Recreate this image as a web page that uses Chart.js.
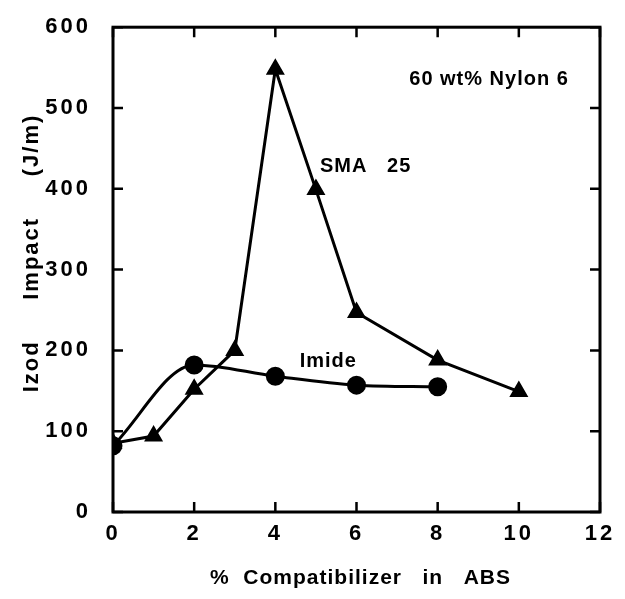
<!DOCTYPE html>
<html>
<head>
<meta charset="utf-8">
<script src="https://cdn.jsdelivr.net/npm/chart.js@4.4.1/dist/chart.umd.min.js"></script>
<style>
  html, body { margin: 0; padding: 0; background: #fff; }
  #wrap { width: 625px; height: 599px; }
</style>
</head>
<body>
<div id="wrap"><canvas id="impactChart" width="625" height="599"></canvas></div>
<script>
const smaX = [0, 1, 2, 3, 4, 5, 6, 8, 10];
const smaImpact = [85, 94, 152, 200, 548, 399, 247, 188, 149];
const imideX = [0, 2, 4, 6, 8];
const imideImpact = [82, 182, 168, 157, 155];
const xTicks = [0, 2, 4, 6, 8, 10, 12];
const yTicks = [0, 100, 200, 300, 400, 500, 600];

const font = "'Liberation Sans', Arial, sans-serif";

const toPoints = (xs, ys) => xs.map((x, i) => ({ x: x, y: ys[i] }));

// wide tracking on the tick numbers, like the original lettering
const spacingPlugin = {
  id: "spacing",
  beforeDraw(chart) { chart.ctx.letterSpacing = "3px"; },
  afterDatasetsDraw(chart) { chart.ctx.letterSpacing = "0px"; }
};

// frame, inward ticks, axis titles and the text labels inside the plot
const framePlugin = {
  id: "frame",
  afterDraw(chart) {
    const ctx = chart.ctx;
    const a = chart.chartArea;
    const xs = chart.scales.x, ys = chart.scales.y;
    ctx.save();
    ctx.strokeStyle = "#000";
    ctx.lineWidth = 3;
    ctx.strokeRect(a.left, a.top, a.right - a.left, a.bottom - a.top);
    ctx.lineWidth = 2.5;
    const len = 10;
    xTicks.forEach(v => {
      const px = xs.getPixelForValue(v);
      ctx.beginPath();
      ctx.moveTo(px, a.bottom); ctx.lineTo(px, a.bottom - len);
      ctx.moveTo(px, a.top); ctx.lineTo(px, a.top + len);
      ctx.stroke();
    });
    yTicks.forEach(v => {
      const py = ys.getPixelForValue(v);
      ctx.beginPath();
      ctx.moveTo(a.left, py); ctx.lineTo(a.left + len, py);
      ctx.moveTo(a.right, py); ctx.lineTo(a.right - len, py);
      ctx.stroke();
    });
    ctx.fillStyle = "#000";
    ctx.textBaseline = "middle";
    ctx.textAlign = "center";
    ctx.font = "bold 21px " + font;
    ctx.letterSpacing = "1px";
    ctx.fillText("%  Compatibilizer   in   ABS", (a.left + a.right) / 2 + 4, 578);
    ctx.save();
    ctx.translate(32, 253);
    ctx.rotate(-Math.PI / 2);
    ctx.font = "bold 22px " + font;
    ctx.letterSpacing = "2px";
    ctx.fillText("Izod     Impact     (J/m)", 0, 0);
    ctx.restore();
    ctx.font = "bold 20px " + font;
    ctx.letterSpacing = "1px";
    ctx.textAlign = "left";
    ctx.fillText("60 wt% Nylon 6", xs.getPixelForValue(7.3), ys.getPixelForValue(535));
    ctx.fillText("SMA   25", xs.getPixelForValue(5.1), ys.getPixelForValue(427));
    ctx.fillText("Imide", xs.getPixelForValue(4.6), ys.getPixelForValue(186));
    ctx.restore();
  }
};

new Chart(document.getElementById("impactChart").getContext("2d"), {
  type: "line",
  data: {
    datasets: [{
      label: "SMA 25",
      data: toPoints(smaX, smaImpact),
      borderColor: "#000",
      backgroundColor: "#000",
      borderWidth: 3,
      pointStyle: "triangle",
      pointRadius: 8,
      tension: 0
    }, {
      label: "Imide",
      data: toPoints(imideX, imideImpact),
      borderColor: "#000",
      backgroundColor: "#000",
      borderWidth: 3,
      pointStyle: "circle",
      pointRadius: 8,
      cubicInterpolationMode: "monotone"
    }]
  },
  options: {
    responsive: false,
    animation: false,
    layout: { padding: { left: 0, top: 20, right: 25, bottom: 0 } },
    plugins: { legend: { display: false }, tooltip: { enabled: false } },
    scales: {
      x: {
        type: "linear",
        min: 0,
        max: 12,
        afterBuildTicks: s => { s.ticks = xTicks.map(v => ({ value: v })); },
        afterFit: s => { s.height = 87; },
        grid: { display: false },
        border: { display: false },
        ticks: { color: "#000", padding: 1, font: { family: font, size: 22, weight: "bold" } },
        title: { display: false }
      },
      y: {
        min: 0,
        max: 600,
        afterBuildTicks: s => { s.ticks = yTicks.map(v => ({ value: v })); },
        afterFit: s => { s.width = 113; },
        grid: { display: false },
        border: { display: false },
        ticks: { color: "#000", padding: 14, font: { family: font, size: 22, weight: "bold" } },
        title: { display: false }
      }
    }
  },
  plugins: [spacingPlugin, framePlugin]
});
</script>
</body>
</html>
